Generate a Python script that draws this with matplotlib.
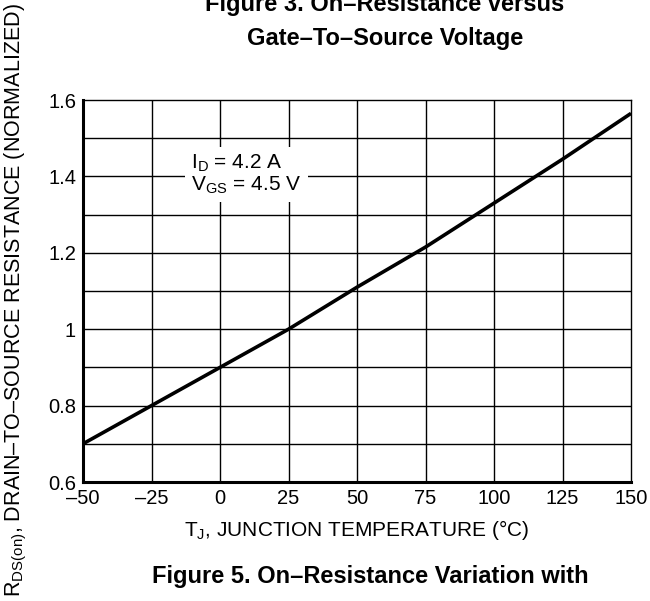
import numpy as np
import matplotlib
matplotlib.use("Agg")
import matplotlib.pyplot as plt

plt.rcParams['font.family'] = ['Liberation Sans', 'DejaVu Sans']
plt.rcParams['mathtext.fontset'] = 'custom'
plt.rcParams['mathtext.rm'] = 'Liberation Sans'

# junction temperature (°C) and normalized on-resistance
temp_c = [-50, -25, 0, 25, 50, 75, 100, 125, 150]
rds_norm = [0.70, 0.80, 0.90, 1.00, 1.11, 1.215, 1.33, 1.445, 1.565]

x_ticks = [-50, -25, 0, 25, 50, 75, 100, 125, 150]
x_labels = ['\u201350', '\u201325', '0', '25', '50', '75', '100', '125', '150']
y_ticks = [0.6, 0.8, 1.0, 1.2, 1.4, 1.6]
y_labels = ['0.6', '0.8', '1', '1.2', '1.4', '1.6']
y_grid = [0.7, 0.9, 1.1, 1.3, 1.5]

fig = plt.figure(figsize=(6.5, 6.01), dpi=100)
ax = fig.add_axes([0.1277, 0.198, 0.8431, 0.6356])

# grid
for xv in x_ticks[1:-1]:
    ax.axvline(xv, color='black', lw=1.0, zorder=1)
for yv in y_ticks[1:-1] + y_grid:
    ax.axhline(yv, color='black', lw=1.0, zorder=1)

ax.plot(temp_c, rds_norm, color='black', lw=2.6, zorder=3, solid_capstyle='butt')

ax.set_xlim(-50, 150)
ax.set_ylim(0.6, 1.6)
ax.set_xticks(x_ticks)
ax.set_xticklabels(x_labels)
ax.set_yticks(y_ticks)
ax.set_yticklabels(y_labels)
ax.tick_params(length=0, labelsize=14.5)
ax.tick_params(axis='x', pad=5)
ax.tick_params(axis='y', pad=5)

ax.spines['left'].set_linewidth(2.2)
ax.spines['bottom'].set_linewidth(2.2)
ax.spines['top'].set_linewidth(1.0)
ax.spines['right'].set_linewidth(1.0)

ax.set_xlabel('T$_\\mathregular{J}$, JUNCTION TEMPERATURE (\u00b0C)', fontsize=15, labelpad=7)

# condition label with white box over grid
ax.text(-10.5, 1.405, 'I$_\\mathregular{D}$ = 4.2 A\nV$_\\mathregular{GS}$ = 4.5 V',
        fontsize=15, ha='left', va='center', linespacing=1.0, zorder=4,
        bbox=dict(boxstyle='square,pad=0.3', fc='white', ec='none'))

fig.text(0.024, 0.5, 'R$_\\mathregular{DS(on)}$, DRAIN\u2013TO\u2013SOURCE RESISTANCE (NORMALIZED)',
         rotation=90, ha='center', va='center', fontsize=15.5)

# titles from neighbouring figures (cut off at edges)
fig.text(0.592, 1 - 5 / 601, 'Figure 3. On\u2013Resistance versus', ha='center', va='center',
         fontsize=17, fontweight='bold')
fig.text(0.592, 1 - 38 / 601, 'Gate\u2013To\u2013Source Voltage', ha='center', va='center',
         fontsize=17, fontweight='bold')
fig.text(0.570, 1 - 577 / 601, 'Figure 5. On\u2013Resistance Variation with', ha='center', va='center',
         fontsize=17, fontweight='bold')
fig.text(0.570, 1 - 612 / 601, 'Temperature', ha='center', va='center',
         fontsize=17, fontweight='bold')

fig.savefig('out.png', dpi=100)
